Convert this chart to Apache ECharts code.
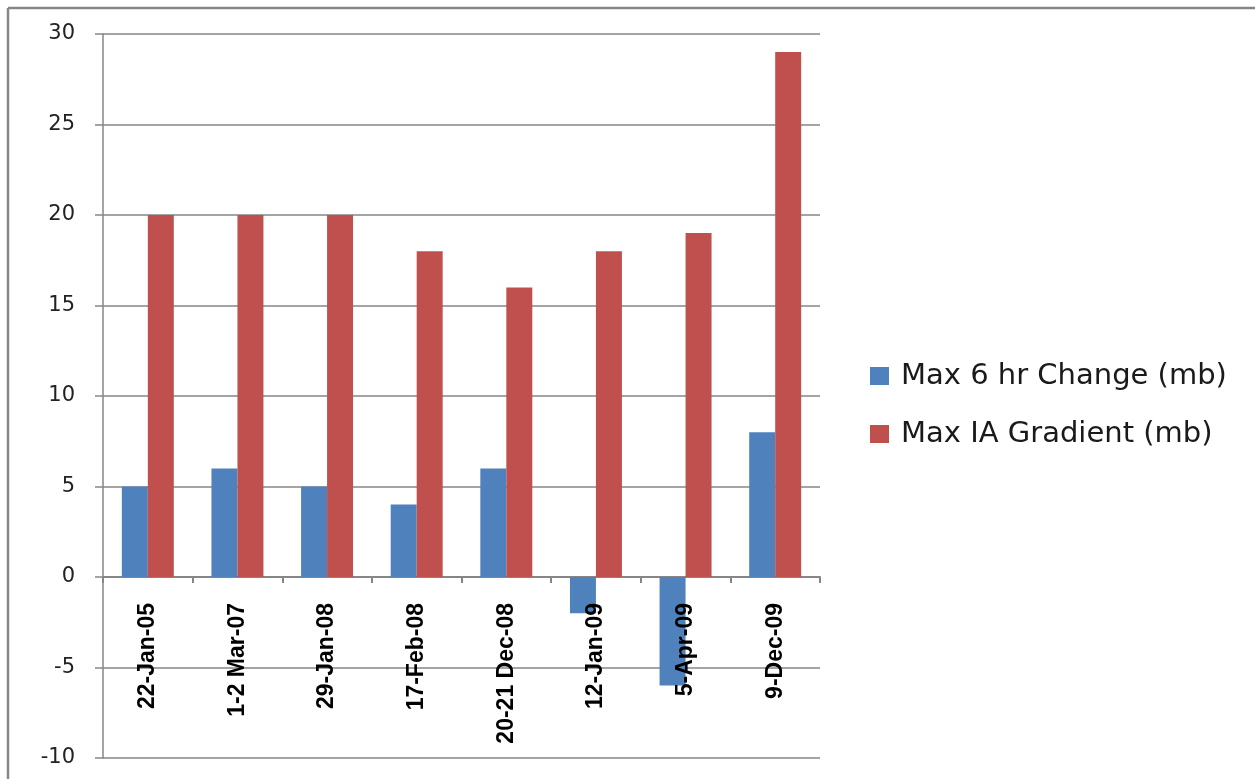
<!DOCTYPE html>
<html>
<head>
<meta charset="utf-8">
<script src="https://cdn.jsdelivr.net/npm/echarts@6/dist/echarts.min.js"></script>
<style>
  html, body { margin: 0; padding: 0; background: #fff; }
  #chart { width: 1255px; height: 779px; }
</style>
</head>
<body>
<div id="chart"></div>
<script>
// Storm events and their pressure measures
const categories = ['22-Jan-05', '1-2 Mar-07', '29-Jan-08', '17-Feb-08', '20-21 Dec-08', '12-Jan-09', '5-Apr-09', '9-Dec-09'];
const seriesNames = ['Max 6 hr Change (mb)', 'Max IA Gradient (mb)'];
const maxSixHourChange = [5, 6, 5, 4, 6, -2, -6, 8];
const maxIAGradient = [20, 20, 20, 18, 16, 18, 19, 29];

const axisGray = '#868686';
const yMin = -10, yMax = 30;
const gridTop = 34, gridBottom = 21, chartHeight = 779;
const plotHeight = chartHeight - gridTop - gridBottom;
// distance from the bottom edge of the plot up to the zero line
const zeroLift = plotHeight * (0 - yMin) / (yMax - yMin);

const chart = echarts.init(document.getElementById('chart'), null, { renderer: 'canvas' });

chart.setOption({
  backgroundColor: '#ffffff',
  animation: false,
  grid: { left: 103, right: 435, top: gridTop, bottom: gridBottom, containLabel: false, outerBoundsMode: 'none' },
  legend: {
    orient: 'vertical',
    left: 865,
    top: 355,
    itemWidth: 19,
    itemHeight: 18,
    itemGap: 26,
    icon: 'rect',
    textStyle: {
      fontFamily: '"DejaVu Sans", Verdana, sans-serif',
      fontSize: 29,
      color: '#1a1a1a',
      lineHeight: 32,
      padding: [0, 0, 0, 7]
    },
    data: seriesNames
  },
  xAxis: [
    {
      // category labels, hung just below the zero line and drawn over the bars
      type: 'category',
      data: categories,
      position: 'bottom',
      z: 5,
      axisLine: { show: false, onZero: false },
      axisTick: { show: false },
      axisLabel: {
        interval: 0,
        rotate: 90,
        margin: 26 - zeroLift,
        color: '#000',
        fontWeight: 'bold',
        fontFamily: '"Liberation Sans Narrow", "Arial Narrow", sans-serif',
        fontSize: 23
      },
      splitLine: { show: false }
    },
    {
      // zero line with its category ticks
      type: 'category',
      data: categories,
      position: 'bottom',
      axisLine: { show: true, onZero: true, onZeroAxisIndex: 0, lineStyle: { color: axisGray, width: 2 } },
      axisTick: { show: true, interval: 0, length: 6, lineStyle: { color: axisGray, width: 2 } },
      axisLabel: { show: false },
      splitLine: { show: false }
    }
  ],
  yAxis: {
    type: 'value',
    min: yMin,
    max: yMax,
    interval: 5,
    axisLine: { show: true, lineStyle: { color: axisGray, width: 1.5 } },
    axisTick: { show: true, length: 8, lineStyle: { color: axisGray, width: 1.5 } },
    axisLabel: {
      margin: 28,
      color: '#222',
      fontFamily: '"DejaVu Sans", Verdana, sans-serif',
      fontSize: 21
    },
    splitLine: { show: true, lineStyle: { color: axisGray, width: 1.5 } }
  },
  series: [
    {
      name: seriesNames[0],
      type: 'bar',
      xAxisIndex: 0,
      data: maxSixHourChange,
      itemStyle: { color: '#4F81BD' },
      barGap: '0%',
      barCategoryGap: '42%'
    },
    {
      name: seriesNames[1],
      type: 'bar',
      xAxisIndex: 0,
      data: maxIAGradient,
      itemStyle: { color: '#C0504D' },
      barGap: '0%',
      barCategoryGap: '42%'
    }
  ],
  graphic: [
    { type: 'line', shape: { x1: 8, y1: 8, x2: 1255, y2: 8 }, style: { stroke: axisGray, lineWidth: 2.5 } },
    { type: 'line', shape: { x1: 8, y1: 8, x2: 8, y2: 779 }, style: { stroke: axisGray, lineWidth: 2.5 } }
  ]
});
</script>
</body>
</html>
